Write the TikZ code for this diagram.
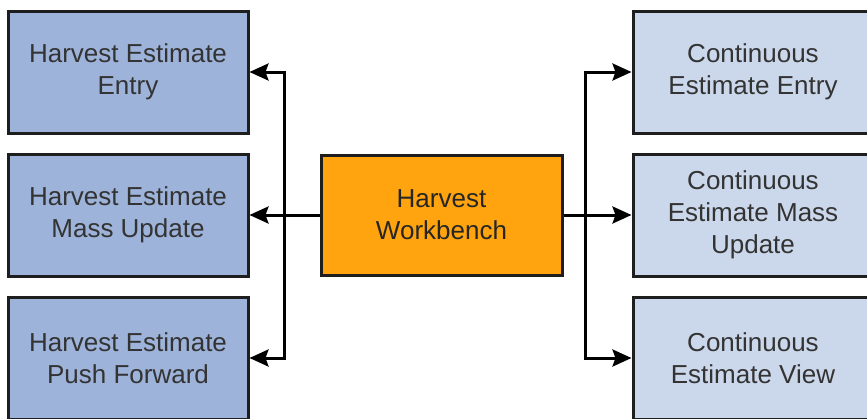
\documentclass[tikz,border=0pt]{standalone}
\usepackage{fontspec}
\setmainfont{Liberation Sans}
\usetikzlibrary{arrows.meta}
\definecolor{harvestblue}{HTML}{9DB3DA}
\definecolor{contblue}{HTML}{CBD7EA}
\definecolor{wborange}{HTML}{FFA40F}
\definecolor{boxline}{HTML}{1E1E1E}
\definecolor{boxtext}{HTML}{333333}
\begin{document}
\begin{tikzpicture}[x=1pt,y=-1pt,
    box/.style={draw=boxline, line width=3pt, minimum width=240pt, minimum height=122pt,
        inner sep=0pt, align=center, text=boxtext, font=\fontsize{26}{32}\selectfont},
    link/.style={line width=3pt, draw=black, -{Stealth[length=19pt,width=17pt,inset=3pt]}}]
    \clip (0,0) rectangle (867,418);
    \useasboundingbox (0,0) rectangle (867,418);

    \node[box, fill=harvestblue] (HEEntry) at (128,72) {Harvest Estimate\\Entry};
    \node[box, fill=harvestblue] (HEMass) at (128,215) {Harvest Estimate\\Mass Update};
    \node[box, fill=harvestblue] (HEPush) at (128,358) {Harvest Estimate\\Push Forward};

    \node[box, fill=wborange, text=black!85, minimum width=241pt, minimum height=120pt] (WB) at (441.5,215) {Harvest\\Workbench};

    \node[box, fill=contblue] (CEEntry) at (753,72) {Continuous\\Estimate Entry};
    \node[box, fill=contblue] (CEMass) at (753,215) {Continuous\\Estimate Mass\\Update};
    \node[box, fill=contblue] (CEView) at (753,358) {Continuous\\Estimate View};

    \coordinate (trunkL) at (284,215);
    \coordinate (trunkR) at (585,215);

    \draw[link] (WB.west) -- (HEMass.east);
    \draw[link, line cap=rect] (trunkL) |- (HEEntry.east);
    \draw[link, line cap=rect] (trunkL) |- (HEPush.east);

    \draw[link] (WB.east) -- (CEMass.west);
    \draw[link, line cap=rect] (trunkR) |- (CEEntry.west);
    \draw[link, line cap=rect] (trunkR) |- (CEView.west);
\end{tikzpicture}
\end{document}
